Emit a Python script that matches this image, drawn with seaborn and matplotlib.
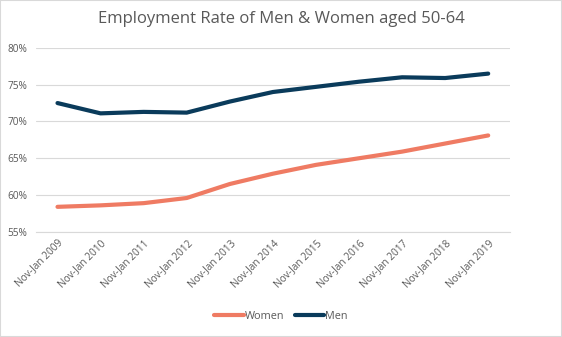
import matplotlib
matplotlib.use("Agg")
import matplotlib.pyplot as plt
import seaborn as sns
import pandas as pd
from matplotlib.patches import Rectangle
from matplotlib.ticker import FuncFormatter

categories = ["Nov-Jan 2009", "Nov-Jan 2010", "Nov-Jan 2011", "Nov-Jan 2012",
              "Nov-Jan 2013", "Nov-Jan 2014", "Nov-Jan 2015", "Nov-Jan 2016",
              "Nov-Jan 2017", "Nov-Jan 2018", "Nov-Jan 2019"]
women = [58.4, 58.6, 58.9, 59.6, 61.5, 62.9, 64.1, 65.0, 65.9, 67.0, 68.1]
men = [72.5, 71.1, 71.3, 71.2, 72.7, 74.0, 74.7, 75.4, 76.0, 75.9, 76.5]
yticks = [55, 60, 65, 70, 75, 80]

sns.set_style("white")
plt.rcParams['font.family'] = ['Open Sans', 'DejaVu Sans']

df = pd.DataFrame({
    "cat": categories * 2,
    "x": list(range(len(categories))) * 2,
    "value": women + men,
    "series": ["Women"] * len(women) + ["Men"] * len(men),
})

fig = plt.figure(figsize=(5.62, 3.37), dpi=100)
ax = fig.add_axes([0.064, 0.312, 0.843, 0.546])

palette = {"Women": "#EF7B63", "Men": "#0A3B5B"}
sns.lineplot(data=df, x="x", y="value", hue="series", palette=palette,
             linewidth=3.0, ax=ax, legend=True, solid_capstyle="round")

ax.set_xlim(-0.5, len(categories) - 0.5)
ax.set_ylim(55, 80)
ax.set_yticks(yticks)
ax.yaxis.set_major_formatter(FuncFormatter(lambda v, p: f"{v:.0f}%"))
ax.set_xticks(range(len(categories)))
ax.set_xticklabels(categories, rotation=45, ha="right", rotation_mode="anchor")
ax.tick_params(axis="both", length=0, labelsize=7.3, colors="#595959")
ax.tick_params(axis="x", pad=4)
ax.tick_params(axis="y", pad=6)
ax.grid(axis="y", color="#D9D9D9", linewidth=0.8)
ax.set_axisbelow(True)
for s in ["top", "right", "left"]:
    ax.spines[s].set_visible(False)
ax.spines["bottom"].set_color("#D9D9D9")
ax.spines["bottom"].set_linewidth(0.8)
ax.set_xlabel("")
ax.set_ylabel("")

leg = ax.legend(loc="center", frameon=False,
                ncol=2, fontsize=7.8, handlelength=2.7, columnspacing=1.0,
                handletextpad=0.1, labelcolor="#595959")
leg.set_bbox_to_anchor((0.5, 0.06), transform=fig.transFigure)
for line in leg.get_lines():
    line.set_linewidth(3.0)

fig.text(0.5, 0.945, "Employment Rate of Men & Women aged 50-64", ha="center",
         va="center", fontsize=12, color="#595959")

fig.patches.append(Rectangle((0, 0), 1, 1, transform=fig.transFigure,
                             fill=False, edgecolor="#D9D9D9", linewidth=1.5))

fig.savefig("out.png", dpi=100)
